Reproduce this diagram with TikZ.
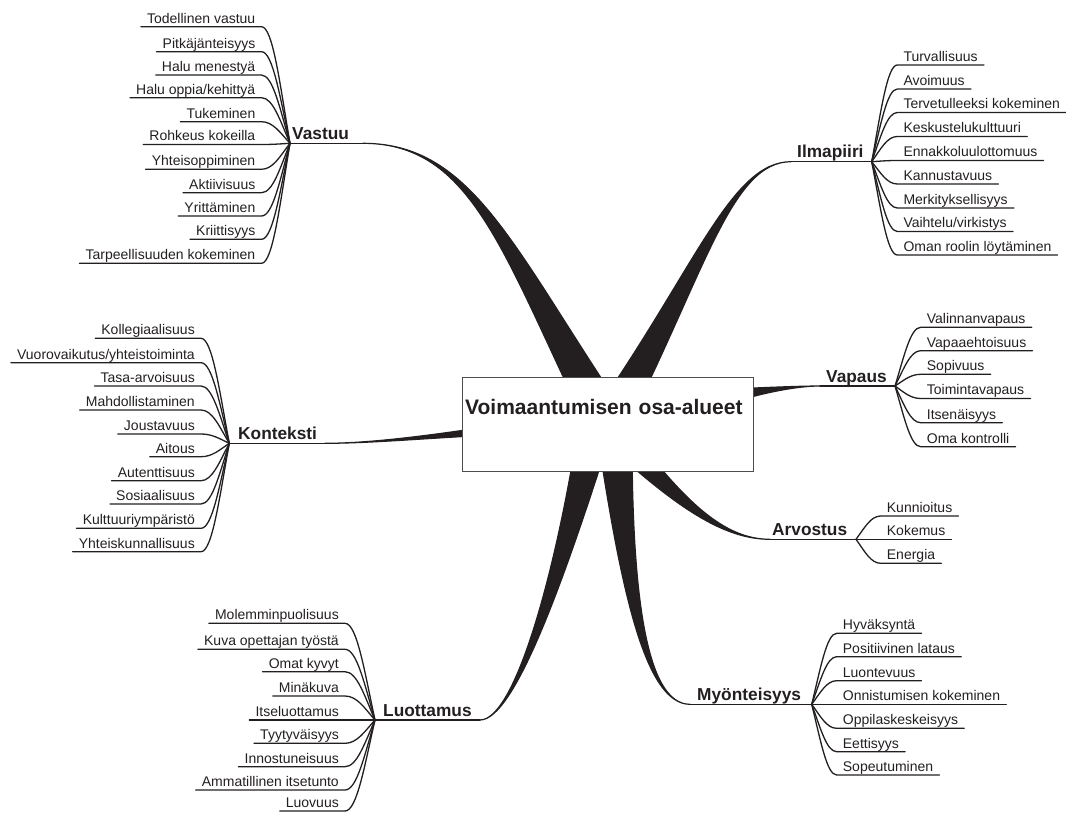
\documentclass[tikz,border=0pt]{standalone}
\usepackage{fontspec}
\setmainfont{Liberation Sans}
\usetikzlibrary{calc}
\definecolor{ink}{HTML}{231F20}
\newcommand\leaffont{\fontsize{14}{16}\selectfont}
\newcommand\branchfont{\fontsize{17.3}{20}\selectfont\bfseries}
\newcommand\titlefont{\fontsize{21}{24}\selectfont\bfseries}

% current group: prefix, hub x, hub y, x where the leaf lines meet the curves
\newcommand\setgroup[4]{\def\grp{#1}\def\hubx{#2}\def\huby{#3}\def\edgex{#4}}
\newcommand\leafctrl[1]{%
  \pgfmathsetmacro\tca{\edgex+0.4*(\hubx-\edgex)}%
  \pgfmathsetmacro\tcb{\hubx+0.35*(\edgex-\hubx)}%
  \pgfmathsetmacro\tcy{\huby+0.5*(#1-\huby)}}
% leaf on the left of its hub
\newcommand\lleaf[3]{%
  \node[leaf, anchor=south east] (\grp-#1) at (\edgex,#2) {#3};
  \leafctrl{#2}
  \draw[twig] (\grp-#1.south west) -- (\grp-#1.south east)
    .. controls (\tca,#2) and (\tcb,\tcy) .. (\grp-hub);}
% leaf on the right of its hub
\newcommand\rleaf[3]{%
  \node[leaf, anchor=south west] (\grp-#1) at (\edgex,#2) {#3};
  \leafctrl{#2}
  \draw[twig] (\grp-hub) .. controls (\tcb,\tcy) and (\tca,#2) ..
    (\grp-#1.south west) -- (\grp-#1.south east);}
% tapered limb: start, end, control offset from start, control offset from end, half width
\newcommand\limb[7]{%
  \pgfmathsetmacro\lmlen{veclen(#3,#4)}%
  \pgfmathsetmacro\lmpx{-(#4)/\lmlen*#7}%
  \pgfmathsetmacro\lmpy{(#3)/\lmlen*#7}%
  \pgfmathsetmacro\lmax{#3+0.3*\lmpx}%
  \pgfmathsetmacro\lmay{#4+0.3*\lmpy}%
  \pgfmathsetmacro\lmbx{#3-0.3*\lmpx}%
  \pgfmathsetmacro\lmby{#4-0.3*\lmpy}%
  \filldraw[limb] (#2) .. controls ($(#2)+(#5,#6)$) and ($(#1)+(\lmax,\lmay)$) .. ($(#1)+(\lmpx,\lmpy)$)
    -- ($(#1)-(\lmpx,\lmpy)$) .. controls ($(#1)+(\lmbx,\lmby)$) and ($(#2)+(#5,#6)$) .. (#2) -- cycle;}

\tikzset{
  leaf/.style={font=\leaffont, text=ink, inner xsep=6pt, inner ysep=0pt,
    text height=10pt, text depth=3.5pt},
  branch/.style={font=\branchfont, text=ink, inner sep=0pt, anchor=base west},
  twig/.style={draw=ink, line width=1.3pt, line cap=round, line join=round},
  limb/.style={fill=ink, draw=ink, line width=1.2pt, line join=round},
  corebox/.style={draw=ink!80, line width=0.9pt, fill=white, font=\titlefont, text=ink,
    text width=285.6pt, align=left, inner xsep=2.5pt, inner ysep=0pt,
    text height=37.3pt, text depth=57.3pt}
}

\begin{document}
\begin{tikzpicture}[x=1pt,y=-1pt]
\useasboundingbox (0,0) rectangle (1066,812);
\clip (0,0) rectangle (1066,812);

% anchor points of the limbs
\coordinate (core) at (608,424.5);
\coordinate (ko-root) at (560,425);
\coordinate (vp-root) at (680,405);
\coordinate (lu-root) at (596,424);
\coordinate (my-root) at (614,424);

\coordinate (va-hub) at (290,143.3);   \coordinate (va-end) at (363,143.3);
\coordinate (il-start) at (791,161.7); \coordinate (il-hub) at (871.7,161.7);
\coordinate (ko-hub) at (229.3,443.3); \coordinate (ko-end) at (325,443.3);
\coordinate (vp-start) at (820,386);   \coordinate (vp-hub) at (895,386);
\coordinate (ar-start) at (770,539.3); \coordinate (ar-hub) at (856,539.3);
\coordinate (lu-hub) at (375,720);     \coordinate (lu-end) at (480,720);
\coordinate (my-start) at (690,704.3); \coordinate (my-hub) at (811.7,704.3);

% limbs from the centre
\limb{core}{va-end}{-100}{-173}{110}{0}{20}
\limb{core}{il-start}{92.7}{-154.3}{-60}{0}{18}
\limb{ko-root}{ko-end}{-80}{5}{65}{0}{8.7}
\limb{vp-root}{vp-start}{60}{-12}{-30}{0}{14}
\limb{core}{ar-start}{72.6}{82.5}{-45}{0}{15}
\limb{my-root}{my-start}{12}{166}{-45}{0}{18}
\limb{lu-root}{lu-end}{-35}{150}{35}{0}{17}

% central box
\node[corebox] (root) at (core) {Voimaantumisen osa-alueet};

% main branches
\node[branch] (vastuu) at (292,139.5) {Vastuu};
\draw[twig] (va-hub) -- (va-end);
\node[branch] (ilmapiiri) at (797,157.5) {Ilmapiiri};
\draw[twig] (il-start) -- (il-hub);
\node[branch] (konteksti) at (238,439.5) {Konteksti};
\draw[twig] (ko-hub) -- (ko-end);
\node[branch] (vapaus) at (826,382) {Vapaus};
\draw[twig] (vp-start) -- (vp-hub);
\node[branch] (arvostus) at (772,535.5) {Arvostus};
\draw[twig] (ar-start) -- (ar-hub);
\node[branch] (luottamus) at (383,716) {Luottamus};
\draw[twig] (lu-hub) -- (lu-end);
\node[branch] (myonteisyys) at (697,700) {Myönteisyys};
\draw[twig] (my-start) -- (my-hub);

% Vastuu
\setgroup{va}{290}{143.3}{261.5}
\lleaf{1}{26.7}{Todellinen vastuu}
\lleaf{2}{51.7}{Pitkäjänteisyys}
\lleaf{3}{75}{Halu menestyä}
\lleaf{4}{97.7}{Halu oppia/kehittyä}
\lleaf{5}{121.7}{Tukeminen}
\lleaf{6}{144.5}{Rohkeus kokeilla}
\lleaf{7}{169.3}{Yhteisoppiminen}
\lleaf{8}{192.7}{Aktiivisuus}
\lleaf{9}{216}{Yrittäminen}
\lleaf{10}{239.3}{Kriittisyys}
\lleaf{11}{263.3}{Tarpeellisuuden kokeminen}

% Konteksti
\setgroup{ko}{229.3}{443.3}{201}
\lleaf{1}{338.3}{Kollegiaalisuus}
\lleaf{2}{362.7}{Vuorovaikutus/yhteistoiminta}
\lleaf{3}{386}{Tasa-arvoisuus}
\lleaf{4}{410}{Mahdollistaminen}
\lleaf{5}{434}{Joustavuus}
\lleaf{6}{456.7}{Aitous}
\lleaf{7}{480.7}{Autenttisuus}
\lleaf{8}{504}{Sosiaalisuus}
\lleaf{9}{528.3}{Kulttuuriympäristö}
\lleaf{10}{551.7}{Yhteiskunnallisuus}

% Luottamus
\setgroup{lu}{375}{720}{345}
\lleaf{1}{623.3}{Molemminpuolisuus}
\lleaf{2}{649.3}{Kuva opettajan työstä}
\lleaf{3}{671.7}{Omat kyvyt}
\lleaf{4}{696}{Minäkuva}
\lleaf{5}{720}{Itseluottamus}
\lleaf{6}{743.3}{Tyytyväisyys}
\lleaf{7}{766.7}{Innostuneisuus}
\lleaf{8}{790}{Ammatillinen itsetunto}
\lleaf{9}{811}{Luovuus}

% Ilmapiiri
\setgroup{il}{871.7}{161.7}{897.3}
\rleaf{1}{65}{Turvallisuus}
\rleaf{2}{89}{Avoimuus}
\rleaf{3}{112.5}{Tervetulleeksi kokeminen}
\rleaf{4}{136.5}{Keskustelukulttuuri}
\rleaf{5}{160.5}{Ennakkoluulottomuus}
\rleaf{6}{184}{Kannustavuus}
\rleaf{7}{208}{Merkityksellisyys}
\rleaf{8}{231.5}{Vaihtelu/virkistys}
\rleaf{9}{255}{Oman roolin löytäminen}

% Vapaus
\setgroup{vp}{895}{386}{920.7}
\rleaf{1}{327.3}{Valinnanvapaus}
\rleaf{2}{350.7}{Vapaaehtoisuus}
\rleaf{3}{374.3}{Sopivuus}
\rleaf{4}{398.5}{Toimintavapaus}
\rleaf{5}{422.7}{Itsenäisyys}
\rleaf{6}{446.7}{Oma kontrolli}

% Arvostus
\setgroup{ar}{856}{539.3}{880.7}
\rleaf{1}{516}{Kunnioitus}
\rleaf{2}{539.3}{Kokemus}
\rleaf{3}{563.3}{Energia}

% Myönteisyys
\setgroup{my}{811.7}{704.3}{836.7}
\rleaf{1}{633.3}{Hyväksyntä}
\rleaf{2}{656.7}{Positiivinen lataus}
\rleaf{3}{680.7}{Luontevuus}
\rleaf{4}{704.3}{Onnistumisen kokeminen}
\rleaf{5}{728.3}{Oppilaskeskeisyys}
\rleaf{6}{751.7}{Eettisyys}
\rleaf{7}{775}{Sopeutuminen}
\end{tikzpicture}
\end{document}
